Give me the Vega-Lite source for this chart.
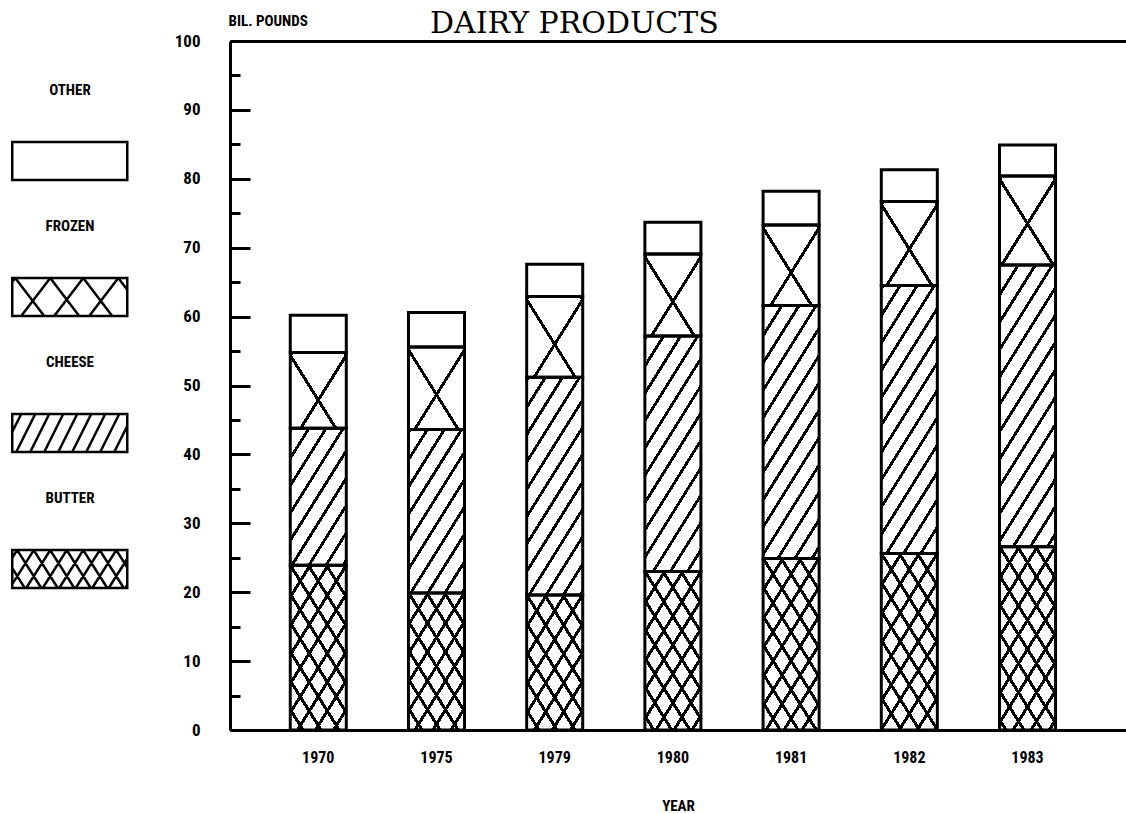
{
  "$schema": "https://vega.github.io/schema/vega-lite/v6.json",
  "width": 896,
  "height": 689,
  "autosize": {"type": "none"},
  "padding": {"left": 230, "top": 41, "right": 0, "bottom": 84},
  "background": "white",
  "title": {"text": "DAIRY PRODUCTS", "font": "DejaVu Serif", "fontSize": 30, "fontWeight": "normal", "color": "black", "anchor": "start", "frame": "group", "dx": 200, "dy": 50, "baseline": "alphabetic", "offset": 0},
  "config": {"view": {"stroke": null}},
  "params": [
    {"name": "sFine", "value": [
      {"offset": 0, "color": "black"}, {"offset": 0.0125, "color": "black"}, {"offset": 0.0125, "color": "transparent"}, {"offset": 0.0625, "color": "transparent"},
      {"offset": 0.0625, "color": "black"}, {"offset": 0.075, "color": "black"}, {"offset": 0.075, "color": "transparent"}, {"offset": 0.125, "color": "transparent"},
      {"offset": 0.125, "color": "black"}, {"offset": 0.1375, "color": "black"}, {"offset": 0.1375, "color": "transparent"}, {"offset": 0.1875, "color": "transparent"},
      {"offset": 0.1875, "color": "black"}, {"offset": 0.2, "color": "black"}, {"offset": 0.2, "color": "transparent"}, {"offset": 0.25, "color": "transparent"},
      {"offset": 0.25, "color": "black"}, {"offset": 0.2625, "color": "black"}, {"offset": 0.2625, "color": "transparent"}, {"offset": 0.3125, "color": "transparent"},
      {"offset": 0.3125, "color": "black"}, {"offset": 0.325, "color": "black"}, {"offset": 0.325, "color": "transparent"}, {"offset": 0.375, "color": "transparent"},
      {"offset": 0.375, "color": "black"}, {"offset": 0.3875, "color": "black"}, {"offset": 0.3875, "color": "transparent"}, {"offset": 0.4375, "color": "transparent"},
      {"offset": 0.4375, "color": "black"}, {"offset": 0.45, "color": "black"}, {"offset": 0.45, "color": "transparent"}, {"offset": 0.5, "color": "transparent"},
      {"offset": 0.5, "color": "black"}, {"offset": 0.5125, "color": "black"}, {"offset": 0.5125, "color": "transparent"}, {"offset": 0.5625, "color": "transparent"},
      {"offset": 0.5625, "color": "black"}, {"offset": 0.575, "color": "black"}, {"offset": 0.575, "color": "transparent"}, {"offset": 0.625, "color": "transparent"},
      {"offset": 0.625, "color": "black"}, {"offset": 0.6375, "color": "black"}, {"offset": 0.6375, "color": "transparent"}, {"offset": 0.6875, "color": "transparent"},
      {"offset": 0.6875, "color": "black"}, {"offset": 0.7, "color": "black"}, {"offset": 0.7, "color": "transparent"}, {"offset": 0.75, "color": "transparent"},
      {"offset": 0.75, "color": "black"}, {"offset": 0.7625, "color": "black"}, {"offset": 0.7625, "color": "transparent"}, {"offset": 0.8125, "color": "transparent"},
      {"offset": 0.8125, "color": "black"}, {"offset": 0.825, "color": "black"}, {"offset": 0.825, "color": "transparent"}, {"offset": 0.875, "color": "transparent"},
      {"offset": 0.875, "color": "black"}, {"offset": 0.8875, "color": "black"}, {"offset": 0.8875, "color": "transparent"}, {"offset": 0.9375, "color": "transparent"},
      {"offset": 0.9375, "color": "black"}, {"offset": 0.95, "color": "black"}, {"offset": 0.95, "color": "transparent"}, {"offset": 1, "color": "transparent"}
    ]},
    {"name": "sWide", "value": [
      {"offset": 0, "color": "black"}, {"offset": 0.016, "color": "black"}, {"offset": 0.016, "color": "transparent"}, {"offset": 0.25, "color": "transparent"},
      {"offset": 0.25, "color": "black"}, {"offset": 0.266, "color": "black"}, {"offset": 0.266, "color": "transparent"}, {"offset": 0.5, "color": "transparent"},
      {"offset": 0.5, "color": "black"}, {"offset": 0.516, "color": "black"}, {"offset": 0.516, "color": "transparent"}, {"offset": 0.75, "color": "transparent"},
      {"offset": 0.75, "color": "black"}, {"offset": 0.766, "color": "black"}, {"offset": 0.766, "color": "transparent"}, {"offset": 1, "color": "transparent"}
    ]}
  ],
  "data": {"values": [
    {"year": "1970", "category": "BUTTER", "amount": 23.9},
    {"year": "1970", "category": "CHEESE", "amount": 19.9},
    {"year": "1970", "category": "FROZEN", "amount": 11.0},
    {"year": "1970", "category": "OTHER", "amount": 5.4},
    {"year": "1975", "category": "BUTTER", "amount": 19.9},
    {"year": "1975", "category": "CHEESE", "amount": 23.7},
    {"year": "1975", "category": "FROZEN", "amount": 12.0},
    {"year": "1975", "category": "OTHER", "amount": 5.0},
    {"year": "1979", "category": "BUTTER", "amount": 19.6},
    {"year": "1979", "category": "CHEESE", "amount": 31.6},
    {"year": "1979", "category": "FROZEN", "amount": 11.7},
    {"year": "1979", "category": "OTHER", "amount": 4.7},
    {"year": "1980", "category": "BUTTER", "amount": 23.0},
    {"year": "1980", "category": "CHEESE", "amount": 34.2},
    {"year": "1980", "category": "FROZEN", "amount": 11.9},
    {"year": "1980", "category": "OTHER", "amount": 4.6},
    {"year": "1981", "category": "BUTTER", "amount": 24.9},
    {"year": "1981", "category": "CHEESE", "amount": 36.7},
    {"year": "1981", "category": "FROZEN", "amount": 11.7},
    {"year": "1981", "category": "OTHER", "amount": 4.9},
    {"year": "1982", "category": "BUTTER", "amount": 25.6},
    {"year": "1982", "category": "CHEESE", "amount": 38.9},
    {"year": "1982", "category": "FROZEN", "amount": 12.2},
    {"year": "1982", "category": "OTHER", "amount": 4.6},
    {"year": "1983", "category": "BUTTER", "amount": 26.6},
    {"year": "1983", "category": "CHEESE", "amount": 40.9},
    {"year": "1983", "category": "FROZEN", "amount": 12.9},
    {"year": "1983", "category": "OTHER", "amount": 4.5}
  ]},
  "transform": [
    {"stack": "amount", "groupby": ["year"], "sort": [{"field": "category", "order": "ascending"}], "as": ["v0", "v1"]}
  ],
  "encoding": {
    "x": {
      "field": "year", "type": "ordinal",
      "scale": {"paddingInner": 0.526, "paddingOuter": 0.553, "align": 0.461, "round": false},
      "axis": {
        "title": "YEAR", "labelAngle": 0, "ticks": false,
        "domainColor": "black", "domainWidth": 3,
        "labelFont": "Roboto Condensed, Liberation Sans Narrow, DejaVu Sans Condensed, sans-serif", "labelFontSize": 16, "labelFontWeight": "bold", "labelColor": "black", "labelPadding": 19,
        "titleFont": "Roboto Condensed, Liberation Sans Narrow, DejaVu Sans Condensed, sans-serif", "titleFontSize": 15, "titleFontWeight": "bold", "titleColor": "black", "titlePadding": 33
      }
    },
    "y": {
      "field": "v1", "type": "quantitative",
      "scale": {"domain": [0, 100], "nice": false, "zero": true},
      "axis": {
        "title": "BIL. POUNDS", "titleAngle": 0, "titleAlign": "left", "titleBaseline": "middle", "titleX": -2, "titleY": -21,
        "titleFont": "Roboto Condensed, Liberation Sans Narrow, DejaVu Sans Condensed, sans-serif", "titleFontSize": 15, "titleFontWeight": "bold", "titleColor": "black",
        "values": [0, 5, 10, 15, 20, 25, 30, 35, 40, 45, 50, 55, 60, 65, 70, 75, 80, 85, 90, 95, 100],
        "labelExpr": "datum.value % 10 === 0 ? datum.label : ''",
        "labelOverlap": false,
        "tickSize": {"condition": {"test": "datum.value % 10 === 0", "value": -20}, "value": -10},
        "tickColor": "black", "tickWidth": 3,
        "domainColor": "black", "domainWidth": 3,
        "labelFont": "Roboto Condensed, Liberation Sans Narrow, DejaVu Sans Condensed, sans-serif", "labelFontSize": 17, "labelFontWeight": "bold", "labelColor": "black", "labelPadding": 50,
        "grid": true, "gridColor": "black", "gridWidth": 3,
        "gridOpacity": {"condition": {"test": "datum.value === 100", "value": 1}, "value": 0}
      }
    }
  },
  "layer": [
    {
      "mark": {"type": "bar", "strokeWidth": 0, "fill": {"expr": "datum.category === 'OTHER' ? 'transparent' : {gradient: 'linear', x1: 0, y1: 0, x2: 0.848 * bandwidth('x') * (datum.category === 'FROZEN' ? 190 : (datum.category === 'BUTTER' ? 244.8 : 232)) / (0.719 * pow(bandwidth('x'), 2) + 0.2809 * pow(scale('y', datum.v0) - scale('y', datum.v1), 2)), y2: 0.53 * (scale('y', datum.v0) - scale('y', datum.v1)) * (datum.category === 'FROZEN' ? 190 : (datum.category === 'BUTTER' ? 244.8 : 232)) / (0.719 * pow(bandwidth('x'), 2) + 0.2809 * pow(scale('y', datum.v0) - scale('y', datum.v1), 2)), stops: datum.category === 'FROZEN' ? sWide : sFine}"}},
      "encoding": {"y2": {"field": "v0"}}
    },
    {
      "mark": {"type": "bar", "strokeWidth": 0, "fill": {"expr": "(datum.category === 'FROZEN' || datum.category === 'BUTTER') ? {gradient: 'linear', x1: 1, y1: 0, x2: 1 - 0.848 * bandwidth('x') * (datum.category === 'FROZEN' ? 190 : 244.8) / (0.719 * pow(bandwidth('x'), 2) + 0.2809 * pow(scale('y', datum.v0) - scale('y', datum.v1), 2)), y2: 0.53 * (scale('y', datum.v0) - scale('y', datum.v1)) * (datum.category === 'FROZEN' ? 190 : 244.8) / (0.719 * pow(bandwidth('x'), 2) + 0.2809 * pow(scale('y', datum.v0) - scale('y', datum.v1), 2)), stops: datum.category === 'FROZEN' ? sWide : sFine} : 'transparent'"}},
      "encoding": {"y2": {"field": "v0"}}
    },
    {
      "mark": {"type": "bar", "fill": "transparent", "stroke": "black", "strokeWidth": 3},
      "encoding": {"y2": {"field": "v0"}}
    },
    {
      "mark": {"type": "point", "opacity": 0, "color": "black"},
      "encoding": {
        "shape": {
          "field": "category", "type": "nominal",
          "scale": {
            "domain": ["OTHER", "FROZEN", "CHEESE", "BUTTER"],
            "range": [
              "M-1.917,1.735H1.917V3H-1.917Z",
              "M-1.917,1.735H1.917V3H-1.917Z M-1.817,1.735L-0.851,3 M-0.65,1.735L0.316,3 M0.45,1.735L1.416,3 M1.618,1.735L1.917,2.128 M-1.817,1.735L-1.917,1.865 M-0.65,1.735L-1.618,3 M0.45,1.735L-0.518,3 M1.618,1.735L0.65,3",
              "M-1.917,1.735H1.917V3H-1.917Z M-1.917,2.335L-1.618,1.735 M-1.783,3L-1.15,1.735 M-1.317,3L-0.684,1.735 M-0.849,3L-0.217,1.735 M-0.383,3L0.249,1.735 M0.082,3L0.717,1.735 M0.55,3L1.183,1.735 M1.016,3L1.65,1.735 M1.484,3L1.917,2.133",
              "M-1.917,1.735H1.917V3H-1.917Z M-1.75,1.735L-1.917,1.997 M-1.2,1.735L-1.917,2.869 M-0.65,1.735L-1.451,3 M-0.1,1.735L-0.901,3 M0.45,1.735L-0.351,3 M1.001,1.735L0.199,3 M1.551,1.735L0.749,3 M1.917,2.024L1.3,3 M1.917,2.894L1.85,3 M-1.917,2.34L-1.501,3 M-1.75,1.735L-0.951,3 M-1.2,1.735L-0.401,3 M-0.65,1.735L0.15,3 M-0.1,1.735L0.7,3 M0.45,1.735L1.25,3 M1.001,1.735L1.8,3 M1.551,1.735L1.917,2.316"
            ]
          },
          "legend": {
            "orient": "none", "legendX": -191.75, "legendY": 17.5, "title": null, "direction": "vertical",
            "symbolSize": 3600, "symbolStrokeWidth": 2.5, "symbolStrokeColor": "black", "symbolFillColor": "white", "symbolOpacity": 1,
            "labelFont": "Roboto Condensed, Liberation Sans Narrow, DejaVu Sans Condensed, sans-serif", "labelFontSize": 15, "labelFontWeight": "bold", "labelColor": "black",
            "labelAlign": "center", "labelBaseline": "middle", "labelOffset": -31.25,
            "rowPadding": 9, "padding": 0, "labelLimit": 0
          }
        }
      }
    }
  ]
}
